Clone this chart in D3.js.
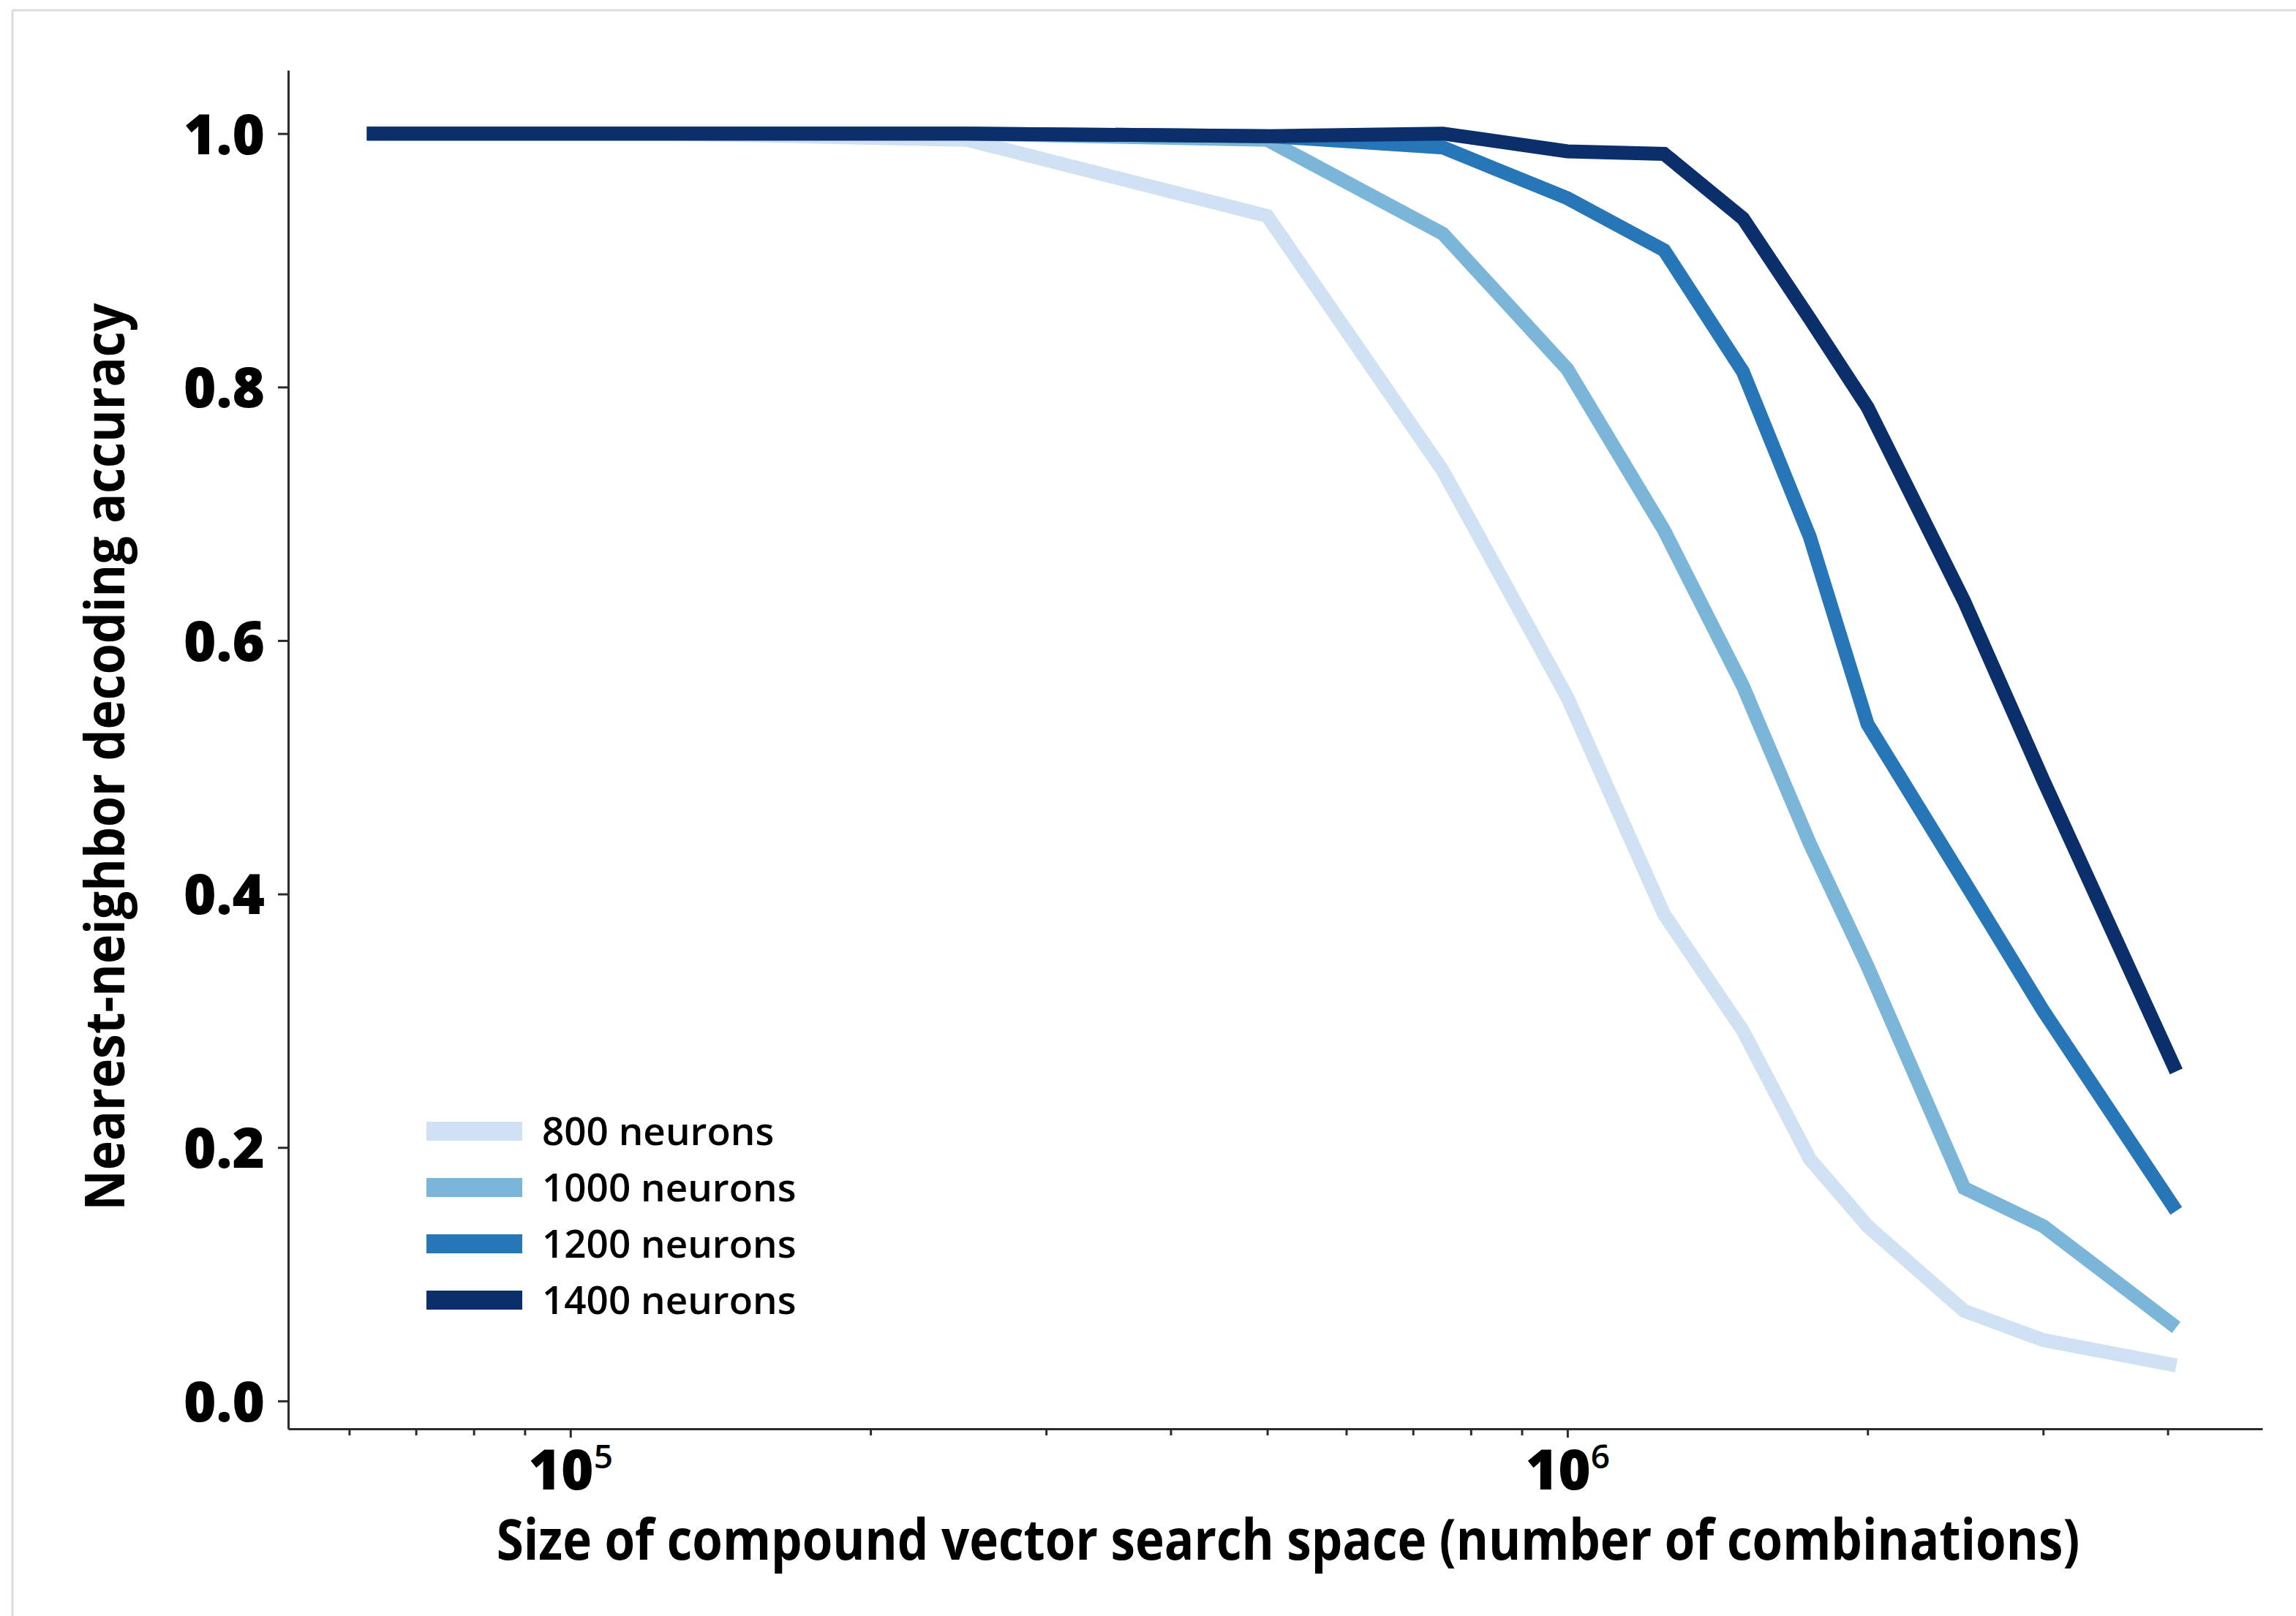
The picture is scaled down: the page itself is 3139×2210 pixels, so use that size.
<!DOCTYPE html>
<html>
<head>
    <script src="https://cdn.jsdelivr.net/npm/d3@7"></script>
    <style>
        body {
            margin: 0;
            background: white;
        }
        svg {
            display: block;
            font-family: "Open Sans", sans-serif;
        }
    </style>
</head>
<body>
    <svg id="chart" width="3139" height="2210"></svg>

    <script>
        // search space sizes (number of combinations)
        const sizes = [62500, 125000, 250000, 500000, 750000, 1000000, 1250000,
                       1500000, 1750000, 2000000, 2500000, 3000000, 4080000];

        const acc800  = [1.0, 1.0, 0.995, 0.935, 0.734, 0.555, 0.384, 0.292, 0.191, 0.138, 0.071, 0.048, 0.028];
        const acc1000 = [1.0, 1.0, 1.0, 0.995, 0.921, 0.814, 0.687, 0.564, 0.440, 0.343, 0.168, 0.138, 0.058];
        const acc1200 = [1.0, 1.0, 1.0, 0.998, 0.989, 0.949, 0.908, 0.812, 0.682, 0.534, 0.410, 0.308, 0.150];
        const acc1400 = [1.0, 1.0, 1.0, 0.998, 1.0, 0.986, 0.984, 0.933, 0.854, 0.784, 0.631, 0.490, 0.260];

        const seriesNames = ["800 neurons", "1000 neurons", "1200 neurons", "1400 neurons"];
        const seriesColors = ["#cfe1f2", "#7bb6d9", "#2676b8", "#0b2f6a"];

        const yTicks = [0.0, 0.2, 0.4, 0.6, 0.8, 1.0];
        const xMajor = [1e5, 1e6];
        const xMinor = [6e4, 7e4, 8e4, 9e4, 2e5, 3e5, 4e5, 5e5, 6e5, 7e5, 8e5, 9e5, 2e6, 3e6, 4e6];

        const xLabel = "Size of compound vector search space (number of combinations)";
        const yLabel = "Nearest-neighbor decoding accuracy";

        const series = [acc800, acc1000, acc1200, acc1400];

        const svg = d3.select("#chart");

        // plot area
        const plotLeft = 394, plotRight = 3093, plotTop = 96, plotBottom = 1954;

        const x = d3.scaleLog()
            .domain([Math.pow(10, 4.717), Math.pow(10, 6.697)])
            .range([plotLeft, plotRight]);

        const y = d3.scaleLinear()
            .domain([-0.022, 1.05])
            .range([plotBottom, plotTop]);

        // light frame on top and left edge
        svg.append("line")
            .attr("x1", 17).attr("x2", 3139)
            .attr("y1", 14).attr("y2", 14)
            .attr("stroke", "#dcdcdc").attr("stroke-width", 3);
        svg.append("line")
            .attr("x1", 17).attr("x2", 17)
            .attr("y1", 14).attr("y2", 2210)
            .attr("stroke", "#dcdcdc").attr("stroke-width", 3);

        // lines
        const line = d3.line()
            .x(function(d, i) { return x(sizes[i]); })
            .y(function(d) { return y(d); });

        svg.selectAll("path.series")
            .data(series)
            .enter()
            .append("path")
                .attr("class", "series")
                .attr("d", line)
                .attr("fill", "none")
                .attr("stroke", function(d, i) { return seriesColors[i]; })
                .attr("stroke-width", 19)
                .attr("stroke-linejoin", "miter")
                .attr("stroke-linecap", "butt");

        // y axis
        const yAxis = svg.append("g")
            .attr("transform", "translate(" + plotLeft + ",0)")
            .call(d3.axisLeft(y)
                .tickValues(yTicks)
                .tickFormat(d3.format(".1f"))
                .tickSize(14)
                .tickSizeOuter(0)
                .tickPadding(18));

        yAxis.selectAll("text")
            .attr("font-family", "Open Sans")
            .attr("font-size", 76)
            .attr("font-weight", 800)
            .attr("fill", "#000")
            .attr("dy", "0.36em");

        // x axis, minor ticks first
        svg.append("g")
            .attr("transform", "translate(0," + plotBottom + ")")
            .call(d3.axisBottom(x)
                .tickValues(xMinor)
                .tickFormat("")
                .tickSize(9)
                .tickSizeOuter(0))
            .select(".domain").remove();

        const xAxis = svg.append("g")
            .attr("transform", "translate(0," + plotBottom + ")")
            .call(d3.axisBottom(x)
                .tickValues(xMajor)
                .tickFormat("")
                .tickSize(12)
                .tickSizeOuter(0));

        // 10^n labels
        xAxis.selectAll(".tick").each(function(d) {
            const t = d3.select(this).append("text")
                .attr("y", 83)
                .attr("fill", "#000")
                .attr("text-anchor", "middle")
                .attr("font-family", "Open Sans")
                .attr("font-weight", 800)
                .attr("font-size", 76);
            t.append("tspan").text("10");
            t.append("tspan")
                .attr("font-size", 46)
                .attr("font-weight", 600)
                .attr("dy", -29)
                .text(Math.round(Math.log10(d)));
        });

        svg.selectAll(".domain, .tick line")
            .attr("stroke", "#2b2b2b")
            .attr("stroke-width", 3);

        // axis titles, squeezed horizontally to the narrower original face
        function fitText(sel, len) {
            const natural = sel.node().getComputedTextLength();
            return len / natural;
        }

        const xTitle = svg.append("text")
            .attr("text-anchor", "middle")
            .attr("font-size", 78)
            .attr("font-weight", 700)
            .text(xLabel);
        xTitle.attr("transform", "translate(1761,2133) scale(" + fitText(xTitle, 2165) + ",1)");

        const yTitle = svg.append("text")
            .attr("text-anchor", "middle")
            .attr("font-size", 76)
            .attr("font-weight", 700)
            .text(yLabel);
        yTitle.attr("transform", "translate(170,1035) rotate(-90) scale(" + fitText(yTitle, 1241) + ",1)");

        // legend
        const legend = svg.append("g")
            .selectAll("g")
            .data(seriesNames)
            .enter()
            .append("g")
                .attr("transform", function(d, i) {
                    return "translate(583," + (1547 + i * 77) + ")";
                });

        legend.append("rect")
            .attr("x", 0)
            .attr("y", -13)
            .attr("width", 131)
            .attr("height", 26)
            .attr("fill", function(d, i) { return seriesColors[i]; });

        legend.append("text")
            .attr("x", 158)
            .attr("dy", "0.36em")
            .attr("font-size", 53)
            .attr("font-weight", 600)
            .text(function(d) { return d; });
    </script>
</body>
</html>
